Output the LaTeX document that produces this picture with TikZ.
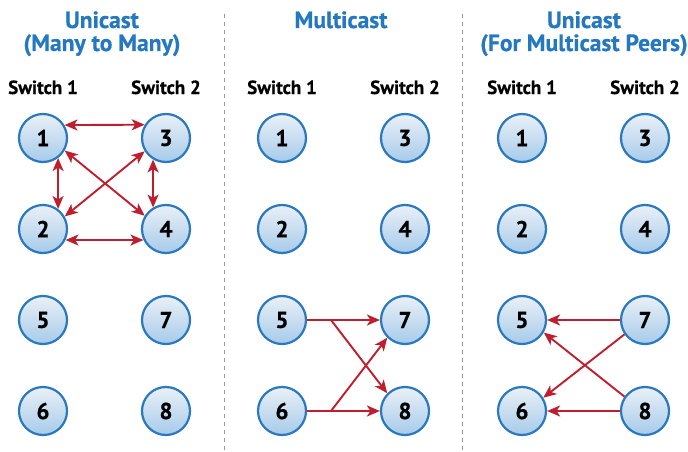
\documentclass[tikz,border=0pt]{standalone}
\usepackage{fontspec}
\setmainfont{PT Sans}[BoldFeatures={FakeBold=0.6}]
\usetikzlibrary{arrows.meta}
\definecolor{ttl}{HTML}{2478BF}
\definecolor{cb}{HTML}{2A78BD}
\definecolor{ctop}{HTML}{EAF0F7}
\definecolor{cbot}{HTML}{A6CBEA}
\definecolor{arr}{HTML}{BE1E2D}
\definecolor{sep}{HTML}{9A9A9A}
\begin{document}
\begin{tikzpicture}[x=1pt,y=-1pt,
  sw/.style={circle,minimum size=48pt,inner sep=0pt,draw=cb,line width=2.2pt,
    top color=ctop,bottom color=cbot,font=\bfseries\fontsize{23}{23}\selectfont},
  title/.style={text=ttl,anchor=base,inner sep=0pt,font=\bfseries\fontsize{23.5}{23.5}\selectfont},
  lab/.style={anchor=base,inner sep=0pt,font=\bfseries\fontsize{19}{19}\selectfont},
  tip/.tip={Stealth[length=13pt,width=11pt,inset=3.5pt]},
  ar/.style={draw=arr,line width=1.9pt,-tip},
  dar/.style={draw=arr,line width=1.9pt,tip-tip},
  sepl/.style={draw=sep,line width=1pt,dash pattern=on 4pt off 4pt}]
\useasboundingbox (0,0) rectangle (688,452);
% separators
\coordinate (s1a) at (224,14); \coordinate (s1b) at (224,452);
\coordinate (s2a) at (462,14); \coordinate (s2b) at (462,452);
\draw[sepl] (s1a) -- (s1b);
\draw[sepl] (s2a) -- (s2b);
% titles
\node[title] (t1a) at (102,28) {Unicast};
\node[title] (t1b) at (102,51) {(Many to Many)};
\node[title] (t2a) at (341,28) {Multicast};
\node[title] (t3a) at (584,28) {Unicast};
\node[title] (t3b) at (584,51) {(For Multicast Peers)};
% switch labels
\foreach \c/\x in {a/43,b/282,c/522}{
  \node[lab] (l\c1) at (\x,94) {Switch 1};
  \node[lab] (l\c2) at (\x+123,94) {Switch 2};
}
% nodes
\foreach \c/\x in {a/43,b/282,c/522}{
  \node[sw] (\c1) at (\x,138) {1};
  \node[sw] (\c2) at (\x,229) {2};
  \node[sw] (\c5) at (\x,320) {5};
  \node[sw] (\c6) at (\x,411) {6};
  \node[sw] (\c3) at (\x+123,138) {3};
  \node[sw] (\c4) at (\x+123,229) {4};
  \node[sw] (\c7) at (\x+123,320) {7};
  \node[sw] (\c8) at (\x+123,411) {8};
}
% unicast many to many
\draw[dar] (a1.31.2) -- (a3.148.8);
\draw[dar] (a2.-26) -- (a4.206);
\draw[dar] (a1.-53) -- (a2.53);
\draw[dar] (a3.-121) -- (a4.121);
\draw[dar] (a1.-30) -- (a4.148);
\draw[dar] (a3.-148) -- (a2.30);
% multicast
\coordinate (m5) at (331,320);
\coordinate (m6) at (331,411);
\draw[ar] (b5.east) -- (b7.west);
\draw[ar] (b6.east) -- (b8.west);
\draw[ar] (m5) -- (b8.135);
\draw[ar] (m6) -- (b7.-135);
% unicast for multicast peers
\draw[ar] (c7.west) -- (c5.east);
\draw[ar] (c8.west) -- (c6.east);
\draw[ar] (c7.-145) -- (c6.32);
\draw[ar] (c8.145) -- (c5.-30);
\end{tikzpicture}
\end{document}
